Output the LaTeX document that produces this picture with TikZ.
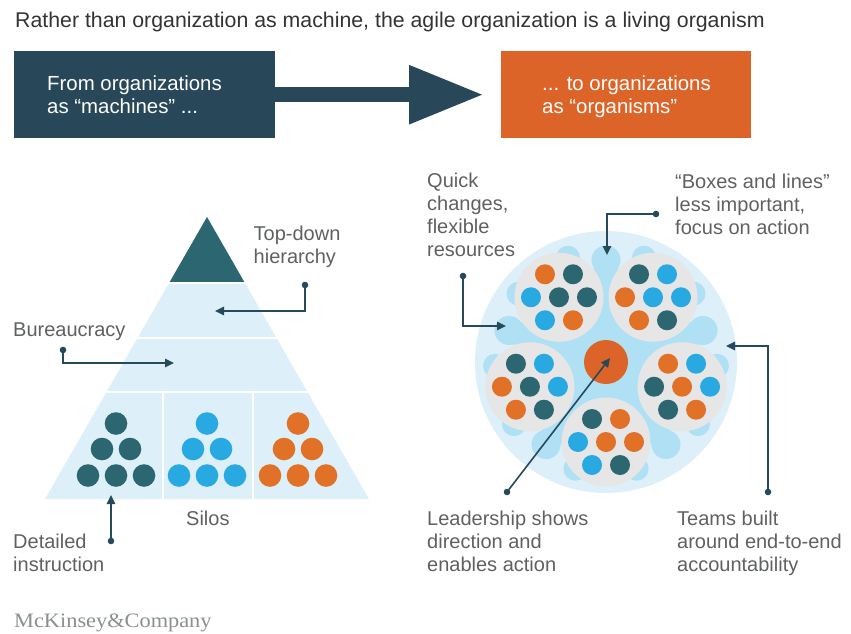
\documentclass[tikz,border=0pt]{standalone}
\usepackage{fontspec}
\setmainfont{Liberation Sans}
\newfontfamily\logofont{Liberation Serif}[FakeStretch=1.09]
\usetikzlibrary{arrows.meta}
\definecolor{navyc}{HTML}{284859}
\definecolor{orgc}{HTML}{DD6428}
\definecolor{cT}{HTML}{2C6670}
\definecolor{cB}{HTML}{29A9E1}
\definecolor{cO}{HTML}{E07126}
\definecolor{palec}{HTML}{DDEFF8}
\definecolor{midc}{HTML}{B0E0F4}
\definecolor{teamgray}{HTML}{E6E6E6}
\definecolor{lblc}{HTML}{5F6161}
\definecolor{titlec}{HTML}{333333}
\definecolor{connc}{HTML}{274A5A}
\definecolor{logoc}{HTML}{8A8F8F}
\newcommand\tdots[8]{%
  \begin{scope}[shift={(#1)}]
    \fill[#2] (-14,-23) circle (10pt);
    \fill[#3] (14,-23) circle (10pt);
    \fill[#4] (-28,0) circle (10pt);
    \fill[#5] (0,0) circle (10pt);
    \fill[#6] (28,0) circle (10pt);
    \fill[#7] (-14,23) circle (10pt);
    \fill[#8] (14,23) circle (10pt);
  \end{scope}}
\newcommand\sdots[2]{%
  \fill[#2] (#1,423.5) circle (11.3pt);
  \fill[#2] (#1-14,449) circle (11.3pt);
  \fill[#2] (#1+14,449) circle (11.3pt);
  \fill[#2] (#1-28,475.5) circle (11.3pt);
  \fill[#2] (#1,475.5) circle (11.3pt);
  \fill[#2] (#1+28,475.5) circle (11.3pt);}
\newcommand\fl{\rule{0pt}{15pt}}
\begin{document}
\begin{tikzpicture}[x=1pt,y=-1pt,
  lbl/.style={anchor=north west, inner sep=0pt, align=left, text=lblc, font=\fontsize{20}{23}\selectfont},
  boxtxt/.style={anchor=north west, inner sep=0pt, align=left, text=white, font=\fontsize{20.4}{23}\selectfont},
  conn/.style={draw=connc, line width=1.6pt, -{Triangle[length=9pt,width=8.5pt]}},
  team/.style={circle, fill=teamgray, minimum size=89pt, inner sep=0pt},
  bigbox/.style={anchor=north west, minimum height=87pt, inner sep=0pt}]
\useasboundingbox (0,0) rectangle (851,634);

% title
\node[anchor=base west, inner sep=0pt, text=titlec, font=\fontsize{21.3}{24}\selectfont] (title) at (15,27.5)
  {Rather than organization as machine, the agile organization is a living organism};

% top boxes
\node[bigbox, fill=navyc, minimum width=261pt] (mach) at (14,51) {};
\node[bigbox, fill=orgc, minimum width=250pt] (org) at (501,51) {};
\draw[navyc, line width=15pt, -{Triangle[length=75pt,width=55pt]}, shorten >=17pt] (mach.east) -- (org.west);
\node[boxtxt] (machtxt) at (47,75) {\fl From organizations\\as “machines” ...};
\node[boxtxt] (orgtxt) at (542,75) {\fl ... to organizations\\as “organisms”};

% pyramid
\fill[palec] (207,217) -- (369,499) -- (45,499) -- cycle;
\fill[cT] (207,217) -- (244.3,282) -- (169.7,282) -- cycle;
\draw[white, line width=2pt] (120,283) -- (300,283);
\draw[white, line width=2pt] (100,337.5) -- (320,337.5);
\draw[white, line width=2pt] (80,391.5) -- (340,391.5);
\draw[white, line width=1.5pt] (163,391.5) -- (163,499);
\draw[white, line width=1.5pt] (253,391.5) -- (253,499);
\sdots{116}{cT}
\sdots{207}{cB}
\sdots{298}{cO}

% organism
\fill[palec] (606,362) circle (131pt);
\begin{scope}[shift={(606,362)}]
  \fill[midc] (0,0) circle (90pt);
  \foreach \g in {18,90,162,234,306}{
    \fill[midc] (-\g:102) circle (14.5pt);
    \fill[midc] (-\g:92) circle (12pt);
    \fill[midc] (-\g-20:111) circle (12pt);
    \fill[midc] (-\g+20:111) circle (12pt);
  }
  \node[team] (tl) at (-126:80) {};
  \node[team] (tr) at (-54:80) {};
  \node[team] (lt) at (-198:80) {};
  \node[team] (rt) at (-342:80) {};
  \node[team] (bt) at (-270:80) {};
\end{scope}
\tdots{tl}{cO}{cT}{cB}{cT}{cT}{cB}{cO}
\tdots{tr}{cT}{cB}{cO}{cB}{cB}{cO}{cT}
\tdots{lt}{cT}{cB}{cO}{cT}{cB}{cO}{cT}
\tdots{rt}{cO}{cB}{cT}{cO}{cB}{cT}{cO}
\tdots{bt}{cT}{cO}{cB}{cO}{cO}{cB}{cT}
\node[circle, fill=orgc, minimum size=44pt, inner sep=0pt] (lead) at (606,362) {};

% labels
\node[lbl] (topdown) at (253.5,225) {\fl Top-down\\hierarchy};
\node[lbl] (bureau) at (13,321) {\fl Bureaucracy};
\node[lbl] (silos) at (186,510) {\fl Silos};
\node[lbl] (detail) at (13,533) {\fl Detailed\\instruction};
\node[lbl] (quick) at (427,172) {\fl Quick\\changes,\\flexible\\resources};
\node[lbl] (boxes) at (675,173) {\fl “Boxes and lines”\\less important,\\focus on action};
\node[lbl] (leadtxt) at (427,510) {\fl Leadership shows\\direction and\\enables action};
\node[lbl] (teams) at (677,510) {\fl Teams built\\around end-to-end\\accountability};

% connectors
\coordinate (tdDot) at (305,285);  \coordinate (tdTip) at (215,311);
\coordinate (buDot) at (63,350);   \coordinate (buTip) at (174,363);
\coordinate (deDot) at (111,541);  \coordinate (deTip) at (111,495);
\coordinate (qcDot) at (463,276);  \coordinate (qcTip) at (506,326);
\coordinate (blDot) at (656,214);  \coordinate (blTip) at (607,255);
\coordinate (leDot) at (507,492);  \coordinate (leTip) at (610,358);
\coordinate (tbDot) at (768,492);  \coordinate (tbTip) at (726,346);
\draw[conn] (tdDot) |- (tdTip);
\draw[conn] (buDot) |- (buTip);
\draw[conn] (deDot) -- (deTip);
\draw[conn] (qcDot) |- (qcTip);
\draw[conn] (blDot) -| (blTip);
\draw[conn] (leDot) -- (leTip);
\draw[conn] (tbDot) |- (tbTip);
\foreach \d in {tdDot,buDot,deDot,qcDot,blDot,leDot,tbDot}
  \fill[connc] (\d) circle (3.3pt);

% logo
\node[anchor=base west, inner sep=0pt, text=logoc, font=\logofont\fontsize{20.5}{24}\selectfont] (logo) at (14,627) {McKinsey\&Company};
\end{tikzpicture}
\end{document}
